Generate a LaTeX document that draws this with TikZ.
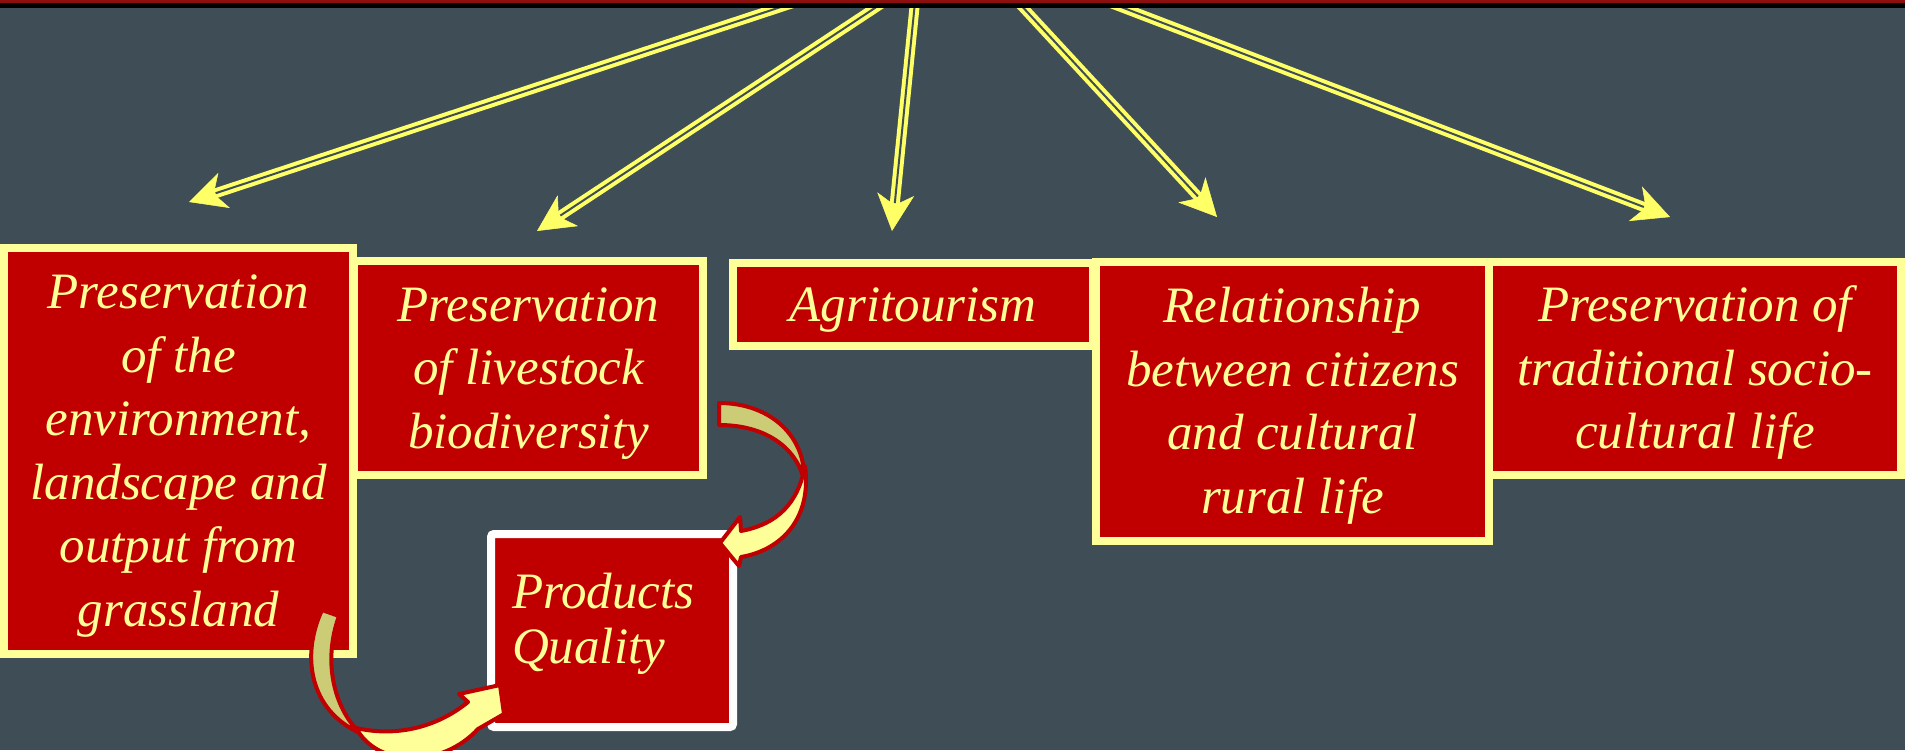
\documentclass[tikz,border=0pt]{standalone}
\usepackage{fontspec}
\setmainfont{Liberation Serif}
\usetikzlibrary{arrows.meta}
\definecolor{bg}{RGB}{63,77,86}
\definecolor{boxred}{RGB}{192,0,0}
\definecolor{paleyel}{RGB}{255,255,153}
\definecolor{arryel}{RGB}{255,255,102}
\definecolor{khaki}{RGB}{204,204,119}
\definecolor{barred}{RGB}{140,15,15}
\newcommand{\lst}{\rule[-15pt]{0pt}{63pt}}
\newcommand{\bigfont}{\fontsize{51pt}{63.5pt}\selectfont\itshape}
\begin{document}
\begin{tikzpicture}[x=1pt,y=-1pt,
  arr/.style={draw=arryel, line width=10pt,
    -{Stealth[length=37pt,width=37pt,inset=11pt,line width'=0.5pt]}},
  gapline/.style={draw=bg, line width=2pt, shorten >=28pt},
  bx/.style={draw=paleyel, fill=boxred, line width=8pt, inner sep=0pt, outer sep=0pt,
    text=paleyel, font=\bigfont, align=center},
  cv/.style={draw=boxred, line width=4pt, line join=round}
]
\useasboundingbox (0,0) rectangle (1905,750);
\fill[bg] (0,0) rectangle (1905,750);

% straight arrows from the top bar
\coordinate (s1) at (796,2);   \coordinate (e1) at (189,202);
\coordinate (s2) at (884,2);   \coordinate (e2) at (537,231);
\coordinate (s3) at (915,2);   \coordinate (e3) at (892,231);
\coordinate (s4) at (1018,2);  \coordinate (e4) at (1217,217);
\coordinate (s5) at (1108,2);  \coordinate (e5) at (1670,217);
\foreach \i in {1,...,5}{
  \draw[arr] (s\i) -- (e\i);
  \draw[gapline] (s\i) -- (e\i);
}

% top bar
\fill[barred] (0,0) rectangle (1905,3);
\fill[black] (0,3) rectangle (1905,8);

% boxes
\node[bx, minimum width=349pt, minimum height=406pt] (b1) at (178.5,451)
  {\lst Preservation\\\lst of the\\\lst environment,\\\lst landscape and\\\lst output from\\\lst grassland};
\node[bx, minimum width=349pt, minimum height=214pt] (b2) at (528.5,368)
  {\lst Preservation\\\lst of livestock\\\lst biodiversity};
\node[bx, minimum width=360pt, minimum height=83pt] (b3) at (913,304.5)
  {\lst Agritourism};
\node[bx, minimum width=393pt, minimum height=279pt] (b4) at (1292.5,401.5)
  {\lst Relationship\\\lst between citizens\\\lst and cultural\\\lst rural life};
\node[bx, minimum width=412pt, minimum height=213pt] (b5) at (1695,368.5)
  {\lst Preservation of\\\lst traditional socio-\\\lst cultural life};
\node[bx, draw=white, rounded corners=3pt, minimum width=242pt, minimum height=193pt,
  font=\fontsize{51pt}{55pt}\selectfont\itshape, align=left, text width=200pt] (b6) at (612,630.5)
  {\rule{0pt}{40pt}Products\\Quality\rule[-30pt]{0pt}{30pt}};

% curved arrow from livestock box to products box
\filldraw[cv, fill=khaki] (719,403) .. controls (772,403) and (806,438) .. (804,480)
  .. controls (796,447) and (765,425) .. (719,425) -- cycle;
\filldraw[cv, fill=paleyel] (805,466) .. controls (812,518) and (782,550) .. (741,557)
  -- (739,566) -- (720,543) -- (740,517) -- (741,531)
  .. controls (778,524) and (798,503) .. (805,466) -- cycle;

% curved arrow from environment box to products box
\filldraw[cv, fill=khaki] (322,610) .. controls (301,655) and (309,710) .. (360,733)
  .. controls (333,707) and (323,660) .. (339,616) -- cycle;
\filldraw[cv, fill=paleyel] (356,728) .. controls (378,768) and (442,768) .. (478,729)
  -- (504,714) -- (500,685) -- (459,694) -- (468,702)
  .. controls (440,725) and (400,738) .. (356,728) -- cycle;
\end{tikzpicture}
\end{document}
